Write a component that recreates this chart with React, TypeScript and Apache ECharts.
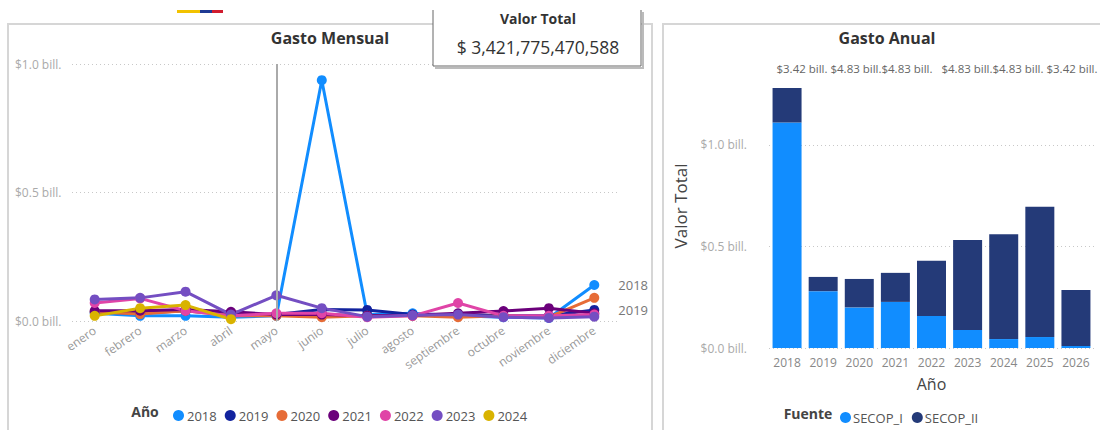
import React, { useEffect, useRef } from "react";
import * as echarts from "echarts";

const months = ["enero", "febrero", "marzo", "abril", "mayo", "junio", "julio", "agosto", "septiembre", "octubre", "noviembre", "diciembre"];
const years = ["2018", "2019", "2020", "2021", "2022", "2023", "2024"];
const v2018 = [0.03, 0.02, 0.02, 0.015, 0.02, 0.937, 0.025, 0.03, 0.02, 0.015, 0.012, 0.14];
const v2019 = [0.035, 0.03, 0.04, 0.025, 0.025, 0.045, 0.043, 0.025, 0.025, 0.02, 0.02, 0.043];
const v2020 = [0.035, 0.027, 0.04, 0.02, 0.02, 0.015, 0.02, 0.02, 0.015, 0.02, 0.015, 0.09];
const v2021 = [0.04, 0.04, 0.045, 0.036, 0.025, 0.025, 0.02, 0.022, 0.03, 0.039, 0.05, 0.03];
const v2022 = [0.07, 0.088, 0.04, 0.02, 0.03, 0.03, 0.015, 0.02, 0.07, 0.02, 0.02, 0.025];
const v2023 = [0.084, 0.09, 0.114, 0.025, 0.1, 0.05, 0.017, 0.022, 0.025, 0.015, 0.012, 0.017];
const v2024 = [0.02, 0.05, 0.062, 0.007];
const monthly = [v2018, v2019, v2020, v2021, v2022, v2023, v2024];
const yearColors = ["#118DFF", "#12239E", "#E66C37", "#6B007B", "#E044A7", "#744EC2", "#D9B300"];

const annualYears = ["2018", "2019", "2020", "2021", "2022", "2023", "2024", "2025", "2026"];
const secopI = [1.11, 0.28, 0.2, 0.227, 0.158, 0.089, 0.044, 0.054, 0.01];
const secopII = [0.17, 0.07, 0.14, 0.143, 0.272, 0.443, 0.516, 0.641, 0.276];
const topLabels = ["$3.42 bill.", "$4.83 bill.", "$4.83 bill.", "$4.83 bill.", "$4.83 bill.", "$3.42 bill."];
const valorTotal = "$ 3,421,775,470,588";

const FONT = "Open Sans";

export default function App() {
  const ref = useRef<HTMLDivElement>(null);
  useEffect(() => {
    if (!ref.current) return;
    const chart = echarts.init(ref.current, null, { renderer: "svg" });
    const fmt = (v: number) => "$" + v.toFixed(1) + " bill.";
    const labelX = [802, 856, 907, 967, 1018, 1072];

    const lineSeries = years.map((y, i) => ({
      name: y,
      type: "line",
      xAxisIndex: 0,
      yAxisIndex: 0,
      data: monthly[i],
      symbol: "circle",
      symbolSize: 10,
      lineStyle: { width: 3, color: yearColors[i] },
      itemStyle: { color: yearColors[i] },
      endLabel: i < 2 ? { show: true, formatter: y, color: "#777", fontSize: 13, fontFamily: FONT, distance: 24 } : { show: false },
      markLine: i === 0 ? {
        silent: true,
        symbol: "none",
        label: { show: false },
        lineStyle: { color: "#aaa", width: 2, type: "solid" },
        data: [{ xAxis: "mayo" }],
      } : undefined,
    }));

    const option: any = {
      animation: false,
      textStyle: { fontFamily: FONT },
      grid: [
        { left: 72, right: 1100 - 617, top: 64, bottom: 430 - 321 },
        { left: 769, right: 6, top: 84, bottom: 430 - 348 },
      ],
      xAxis: [
        {
          type: "category", gridIndex: 0, data: months,
          axisLine: { show: false }, axisTick: { show: false },
          axisLabel: { rotate: 35, color: "#999", fontSize: 12, fontFamily: FONT, margin: 8 },
        },
        {
          type: "category", gridIndex: 1, data: annualYears,
          name: "Año", nameLocation: "middle", nameGap: 28,
          nameTextStyle: { color: "#444", fontSize: 16, fontFamily: FONT },
          axisLine: { show: false }, axisTick: { show: false },
          axisLabel: { color: "#888", fontSize: 12, fontFamily: FONT, margin: 8 },
        },
      ],
      yAxis: [
        {
          type: "value", gridIndex: 0, min: 0, max: 1.0, interval: 0.5,
          axisLabel: { formatter: fmt, color: "#aaa", fontSize: 12, fontFamily: FONT, align: "left", margin: 57 },
          splitLine: { lineStyle: { color: "#c8c8c8", type: [1, 3] } },
        },
        {
          type: "value", gridIndex: 1, min: 0, max: 1.3, interval: 0.5,
          axisLabel: { formatter: fmt, color: "#aaa", fontSize: 12, fontFamily: FONT, margin: 22, showMaxLabel: false },
          splitLine: { showMaxLine: false, lineStyle: { color: "#c8c8c8", type: [1, 3] } },
        },
      ],
      legend: [
        {
          data: years, left: 168, top: 404, icon: "circle", itemWidth: 11, itemHeight: 11, itemGap: 8,
          textStyle: { color: "#555", fontSize: 13, fontFamily: FONT, padding: [0, 0, 0, -2] },
        },
        {
          data: ["SECOP_I", "SECOP_II"], left: 835, top: 406, icon: "circle", itemWidth: 11, itemHeight: 11, itemGap: 9,
          textStyle: { color: "#555", fontSize: 13, fontFamily: FONT, padding: [0, 0, 0, -3] },
        },
      ],
      series: [
        ...lineSeries,
        {
          name: "SECOP_I", type: "bar", stack: "a", xAxisIndex: 1, yAxisIndex: 1,
          data: secopI, barWidth: 29, itemStyle: { color: "#118DFF" },
        },
        {
          name: "SECOP_II", type: "bar", stack: "a", xAxisIndex: 1, yAxisIndex: 1,
          data: secopII, barWidth: 29, itemStyle: { color: "#243A78" },
        },
      ],
      graphic: [
        { type: "rect", shape: { x: 8, y: 24, width: 644, height: 420 }, style: { fill: "none", stroke: "#d6d6d6", lineWidth: 2 }, z: -1 },
        { type: "rect", shape: { x: 663, y: 24, width: 450, height: 420 }, style: { fill: "none", stroke: "#d6d6d6", lineWidth: 2 }, z: -1 },
        { type: "rect", shape: { x: 177, y: 10, width: 23, height: 3 }, style: { fill: "#F2C200" } },
        { type: "rect", shape: { x: 200, y: 10, width: 12, height: 3 }, style: { fill: "#1F3A93" } },
        { type: "rect", shape: { x: 212, y: 10, width: 11, height: 3 }, style: { fill: "#D01C2E" } },
        { type: "text", x: 330, y: 38, style: { text: "Gasto Mensual", fill: "#333", font: `bold 16px "${FONT}"`, align: "center", verticalAlign: "middle" } },
        { type: "text", x: 887, y: 38, style: { text: "Gasto Anual", fill: "#333", font: `bold 16px "${FONT}"`, align: "center", verticalAlign: "middle" } },
        { type: "rect", shape: { x: 433, y: 8, width: 208, height: 58 }, style: { fill: "#fff", stroke: "none" }, z: 10 },
        { type: "polyline", shape: { points: [[433, 10], [433, 66], [641, 66], [641, 10]] }, style: { fill: "none", stroke: "#666", lineWidth: 1 }, z: 11 },
        { type: "polyline", shape: { points: [[435, 68], [643, 68], [643, 12]] }, style: { fill: "none", stroke: "#bbb", lineWidth: 2 }, z: 11 },
        { type: "text", x: 538, y: 18, style: { text: "Valor Total", fill: "#333", font: `bold 14px "${FONT}"`, align: "center", verticalAlign: "middle" }, z: 12 },
        { type: "text", x: 538, y: 47, style: { text: valorTotal, fill: "#333", font: `17.5px "${FONT}"`, align: "center", verticalAlign: "middle" }, z: 12 },
        { type: "text", x: 145, y: 411, style: { text: "Año", fill: "#444", font: `bold 14px "${FONT}"`, align: "center", verticalAlign: "middle" } },
        { type: "text", x: 808, y: 413, style: { text: "Fuente", fill: "#444", font: `bold 14px "${FONT}"`, align: "center", verticalAlign: "middle" } },
        { type: "text", x: 680, y: 206, rotation: Math.PI / 2, style: { text: "Valor Total", fill: "#444", font: `17px "${FONT}"`, align: "center", verticalAlign: "middle" } },
        ...topLabels.map((t, i) => ({
          type: "text", x: labelX[i], y: 68,
          style: { text: t, fill: "#666", font: `11.5px "${FONT}"`, align: "center", verticalAlign: "middle" },
        })),
      ],
    };
    chart.setOption(option);
    return () => chart.dispose();
  }, []);
  return <div ref={ref} style={{ position: "fixed", left: 0, top: 0, width: 1100, height: 430, background: "#fff" }} />;
}
